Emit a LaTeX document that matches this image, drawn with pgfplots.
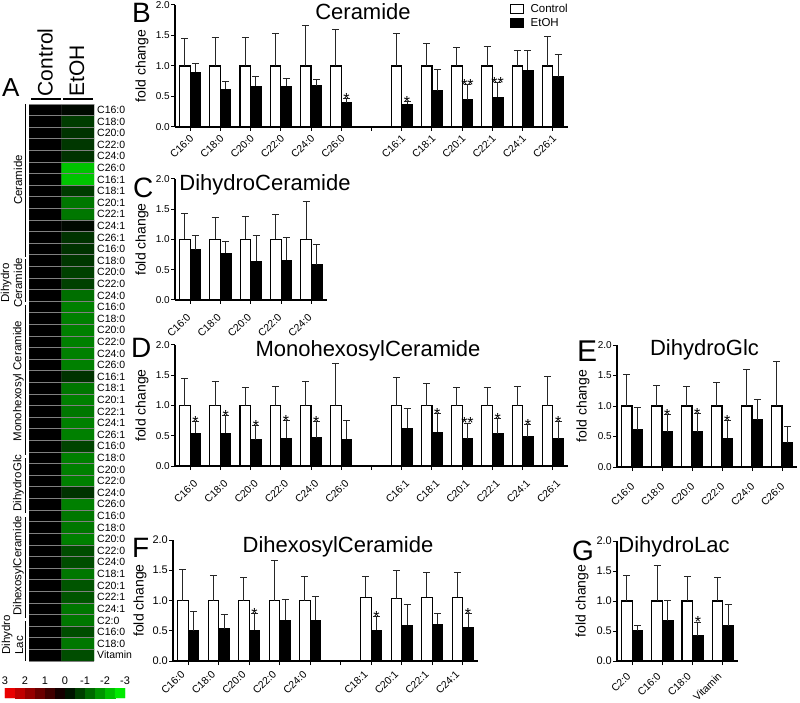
\documentclass[border=0pt]{standalone}
\usepackage{fontspec}
\setmainfont{Liberation Sans}
\usepackage{pgfplots}
\usepackage{pgfplotstable}
\pgfplotsset{compat=1.18}
\newcommand{\fs}[1]{\fontsize{#1}{#1}\selectfont}

\pgfplotstableread{
x c ce e ee
0 1 0.45 0.90 0.14
1 1 0.46 0.62 0.12
2 1 0.47 0.67 0.15
3 1 0.53 0.67 0.12
4 1 0.67 0.68 0.10
5 1 0.60 0.40 0.07
7 1 0.54 0.37 0.04
8 1 0.37 0.59 0.35
9 1 0.31 0.45 0.25
10 1 0.32 0.49 0.24
11 1 0.26 0.93 0.33
12 1 0.48 0.82 0.37
}\tabB
\pgfplotstableread{
x c ce e ee
0 1 0.43 0.83 0.23
1 1 0.36 0.77 0.19
2 1 0.38 0.64 0.43
3 1 0.42 0.66 0.37
4 1 0.63 0.58 0.33
}\tabC
\pgfplotstableread{
x c ce e ee
0 1 0.44 0.54 0.19
1 1 0.39 0.54 0.29
2 1 0.30 0.43 0.24
3 1 0.31 0.46 0.29
4 1 0.39 0.47 0.27
5 1 0.69 0.44 0.31
7 1 0.47 0.62 0.33
8 1 0.37 0.56 0.30
9 1 0.29 0.45 0.26
10 1 0.29 0.53 0.25
11 1 0.32 0.48 0.21
12 1 0.48 0.45 0.29
}\tabD
\pgfplotstableread{
x c ce e ee
0 1 0.52 0.61 0.36
1 1 0.34 0.58 0.28
2 1 0.32 0.58 0.29
3 1 0.38 0.47 0.29
4 1 0.60 0.77 0.34
5 1 0.73 0.40 0.26
}\tabE
\pgfplotstableread{
x c ce e ee
0 1.00 0.52 0.50 0.32
1 1.00 0.42 0.53 0.24
2 1.00 0.38 0.51 0.27
3 1.00 0.66 0.67 0.35
4 1.00 0.39 0.67 0.39
6 1.05 0.34 0.51 0.23
7 1.03 0.47 0.59 0.35
8 1.05 0.41 0.61 0.18
9 1.05 0.41 0.56 0.22
}\tabF
\pgfplotstableread{
x c ce e ee
0 1 0.43 0.50 0.09
1 1 0.60 0.67 0.34
2 1 0.41 0.42 0.23
3 1 0.40 0.59 0.36
}\tabG
\pgfplotstableread{
x y c
0 0 0
1 0 -0.1
0 1 0
1 1 -0.7
0 2 0
1 2 -0.6
0 3 0
1 3 -0.65
0 4 0
1 4 -0.6
0 5 0
1 5 -2.3
0 6 0
1 6 -2.3
0 7 0
1 7 -0.7
0 8 0
1 8 -1.4
0 9 0
1 9 -1.4
0 10 0
1 10 -0.1
0 11 0
1 11 -0.6
0 12 0
1 12 -0.6
0 13 0
1 13 -0.65
0 14 0
1 14 -0.75
0 15 0
1 15 -0.75
0 16 0
1 16 -1.3
0 17 0
1 17 -1.5
0 18 0
1 18 -1.5
0 19 0
1 19 -1.5
0 20 0
1 20 -1.5
0 21 0
1 21 -1.5
0 22 0
1 22 -1.5
0 23 0
1 23 -0.6
0 24 0
1 24 -1.4
0 25 0
1 25 -1.5
0 26 0
1 26 -1.4
0 27 0
1 27 -1.5
0 28 0
1 28 -1.5
0 29 0
1 29 -0.8
0 30 0
1 30 -1.5
0 31 0
1 31 -1.5
0 32 0
1 32 -1.5
0 33 0
1 33 -0.6
0 34 0
1 34 -1.5
0 35 0
1 35 -1.4
0 36 0
1 36 -1.4
0 37 0
1 37 -1.5
0 38 0
1 38 -0.9
0 39 0
1 39 -0.9
0 40 0
1 40 -1.4
0 41 0
1 41 -1.0
0 42 0
1 42 -1.0
0 43 0
1 43 -1.4
0 44 0
1 44 -1.4
0 45 0
1 45 -0.9
0 46 0
1 46 -1.4
0 47 0
1 47 -0.9
}\tabHeat
\pgfplotstableread{
x y c
0 0 2.75
1 0 2.25
2 0 1.75
3 0 1.25
4 0 0.75
5 0 0.25
6 0 -0.25
7 0 -0.75
8 0 -1.25
9 0 -1.75
10 0 -2.25
11 0 -2.75
0 1 2.75
1 1 2.25
2 1 1.75
3 1 1.25
4 1 0.75
5 1 0.25
6 1 -0.25
7 1 -0.75
8 1 -1.25
9 1 -1.75
10 1 -2.25
11 1 -2.75
}\tabBar

\pgfplotsset{
  barax/.style={
    scale only axis, anchor=south west,
    ybar=0pt, bar width=0.35,
    ymin=0, ymax=2, ytick={0,0.5,1,1.5,2},
    enlargelimits=false, clip=false,
    axis lines=left, axis line style={-, line width=1.2pt},
    tick style={black, line width=1pt}, major tick length=4pt, tick align=outside,
    /pgf/number format/assume math mode=true,
    yticklabel style={/pgf/number format/fixed, /pgf/number format/fixed zerofill, /pgf/number format/precision=1, inner sep=1pt},
    ylabel={fold change},
    every axis y label/.style={rotate=90, anchor=center, font=\fs{14}},
  },
  lbl/.style 2 args={xticklabel style={xshift=#1, yshift=#2, rotate=45, anchor=north east, inner sep=1pt, font=\fs{10.5}}},
  small/.style={yticklabel style={font=\fs{10}}},
  big/.style={yticklabel style={font=\fs{11}}},
  ctrl/.style={fill=white, draw=black, line width=1.1pt, bar shift=-0.175,
    error bars/y dir=plus, error bars/y explicit,
    error bars/error bar style={line width=1pt, black!85},
    error bars/error mark options={rotate=90, mark size=3.5pt, line width=1pt, black!85}},
  etoh/.style={fill=black, draw=black, line width=1.1pt, bar shift=0.175,
    error bars/y dir=plus, error bars/y explicit,
    error bars/error bar style={line width=1pt, black!85},
    error bars/error mark options={rotate=90, mark size=3.5pt, line width=1pt, black!85}},
}
\newcommand{\sig}[3]{\node[anchor=base, inner sep=0pt, font=\fs{16}, yshift=-5.8pt] at (axis cs:#1,#2) {#3};}

\begin{document}
\begin{tikzpicture}
\useasboundingbox (0pt,0pt) rectangle (800pt,702pt);

% ---------- A: heatmap ----------
\begin{axis}[scale only axis, anchor=south west, at={(29pt,41pt)}, width=65pt, height=557pt,
  xmin=-0.5, xmax=1.5, ymin=-0.5, ymax=47.5, y dir=reverse, enlargelimits=false,
  colormap={gb}{rgb255=(0,255,0) rgb255=(0,0,0) rgb255=(255,0,0)},
  point meta min=-3, point meta max=3,
  axis line style={draw=none},
  xtick=\empty, ytick={0,...,47},
  yticklabels={C16:0,C18:0,C20:0,C22:0,C24:0,C26:0,C16:1,C18:1,C20:1,C22:1,C24:1,C26:1,
    C16:0,C18:0,C20:0,C22:0,C24:0,
    C16:0,C18:0,C20:0,C22:0,C24:0,C26:0,C16:1,C18:1,C20:1,C22:1,C24:1,C26:1,
    C16:0,C18:0,C20:0,C22:0,C24:0,C26:0,
    C16:0,C18:0,C20:0,C22:0,C24:0,C18:1,C20:1,C22:1,C24:1,
    C2:0,C16:0,C18:0,Vitamin},
  yticklabel pos=right,
  major tick length=0pt, minor tick length=0pt,
  minor xtick={-0.5,0.5,1.5}, minor ytick={-0.5,0.5,...,47.5},
  xminorgrids=true, yminorgrids=true, minor grid style={draw=gray, line width=0.9pt},
  axis on top,
  yticklabel style={font=\fs{10.5}, inner sep=0pt}, yticklabel shift=3pt]
\addplot[matrix plot*, mesh/cols=2, point meta=explicit] table[x=x, y=y, meta=c]{\tabHeat};
\end{axis}

% colour bar
\begin{axis}[scale only axis, anchor=south west, at={(5pt,4pt)}, width=120pt, height=10pt,
  xmin=-0.5, xmax=11.5, ymin=-0.5, ymax=1.5, enlargelimits=false,
  colormap={gb}{rgb255=(0,255,0) rgb255=(0,0,0) rgb255=(255,0,0)},
  point meta min=-3, point meta max=3,
  axis line style={draw=none}, ytick=\empty,
  xtick={-0.5,1.5,3.5,5.5,7.5,9.5,11.5}, xticklabels={3,2,1,0,-1,-2,-3},
  xticklabel pos=upper, major tick length=0pt,
  xticklabel style={font=\fs{11}, inner sep=0pt}, xticklabel shift=3pt]
\addplot[matrix plot*, mesh/cols=12, point meta=explicit] table[x=x, y=y, meta=c]{\tabBar};
\end{axis}

\node[rotate=90, anchor=west, inner sep=0pt, font=\fs{21}] at (45pt,605.5pt) {Control};
\node[rotate=90, anchor=west, inner sep=0pt, font=\fs{21}] at (77pt,605.5pt) {EtOH};
\draw[line width=1.5pt] (31pt,603pt) -- (61pt,603pt);
\draw[line width=1.5pt] (63pt,603pt) -- (93pt,603pt);
\draw[line width=1.7pt] (25.5pt,598pt) -- (25.5pt,445pt);
\draw[line width=1.7pt] (25.5pt,442.5pt) -- (25.5pt,400pt);
\draw[line width=1.7pt] (25.5pt,397pt) -- (25.5pt,247pt);
\draw[line width=1.7pt] (25.5pt,244pt) -- (25.5pt,189pt);
\draw[line width=1.7pt] (25.5pt,185pt) -- (25.5pt,84pt);
\draw[line width=1.7pt] (25.5pt,81pt) -- (25.5pt,41pt);
\node[rotate=90, font=\fs{11.5}] at (18pt,522pt) {Ceramide};
\node[rotate=90, font=\fontsize{11.5}{13}\selectfont, align=center] at (11.5pt,419pt) {Dihydro\\Ceramide};
\node[rotate=90, font=\fs{11.5}] at (18.5pt,321pt) {Monohexosyl Ceramide};
\node[rotate=90, font=\fs{11.5}] at (18.5pt,219pt) {DihydroGlc};
\node[rotate=90, font=\fs{11.5}] at (18.5pt,136pt) {DihexosylCeramide};
\node[rotate=90, font=\fontsize{11.5}{13}\selectfont, align=left, anchor=west] at (12.5pt,44pt) {Dihydro\\Lac};

% ---------- B ----------
\begin{axis}[barax, small, lbl={-1pt}{-1pt}, at={(175pt,575pt)}, width=393pt, height=122pt,
  xmin=-0.5, xmax=12.5, xtick={0,...,12},
  xticklabels={C16:0,C18:0,C20:0,C22:0,C24:0,C26:0,,C16:1,C18:1,C20:1,C22:1,C24:1,C26:1},
  ylabel style={at={(axis description cs:-0.084,0.5)}},
  legend cell align=left,
  legend style={at={(0.852,1.01)}, anchor=north west, draw=none, fill=none, inner sep=0pt,
    font=\fs{11.5}, row sep=3pt, nodes={inner sep=0.5pt},
    /tikz/every odd column/.append style={column sep=6pt}}]
\addplot[ctrl, legend image code/.code={\draw[fill=white, draw=black, line width=1.1pt] (0pt,-4.5pt) rectangle (13pt,4.5pt);}]
  table[x=x, y=c, y error=ce]{\tabB};
\addlegendentry{Control}
\addplot[etoh, legend image code/.code={\draw[fill=black, draw=black, line width=1.1pt] (0pt,-4.5pt) rectangle (13pt,4.5pt);}]
  table[x=x, y=e, y error=ee]{\tabB};
\addlegendentry{EtOH}
\sig{5.175}{0.47}{*}
\sig{7.175}{0.41}{*}
\sig{9.175}{0.70}{**}
\sig{10.175}{0.73}{**}
\end{axis}

% ---------- C ----------
\begin{axis}[barax, small, lbl={-4pt}{-7pt}, at={(175pt,402pt)}, width=151.5pt, height=121pt,
  xmin=-0.5, xmax=4.5, xtick={0,...,4},
  xticklabels={C16:0,C18:0,C20:0,C22:0,C24:0},
  ylabel style={at={(axis description cs:-0.218,0.5)}}]
\addplot[ctrl] table[x=x, y=c, y error=ce]{\tabC};
\addplot[etoh] table[x=x, y=e, y error=ee]{\tabC};
\end{axis}

% ---------- D ----------
\begin{axis}[barax, small, lbl={3pt}{-7pt}, at={(175pt,236pt)}, width=393pt, height=121pt,
  xmin=-0.5, xmax=12.5, xtick={0,...,12},
  xticklabels={C16:0,C18:0,C20:0,C22:0,C24:0,C26:0,,C16:1,C18:1,C20:1,C22:1,C24:1,C26:1},
  ylabel style={at={(axis description cs:-0.084,0.5)}}]
\addplot[ctrl] table[x=x, y=c, y error=ce]{\tabD};
\addplot[etoh] table[x=x, y=e, y error=ee]{\tabD};
\sig{0.175}{0.73}{*}
\sig{1.175}{0.83}{*}
\sig{2.175}{0.67}{*}
\sig{3.175}{0.75}{*}
\sig{4.175}{0.74}{*}
\sig{8.175}{0.86}{*}
\sig{9.175}{0.71}{**}
\sig{10.175}{0.78}{*}
\sig{11.175}{0.69}{*}
\sig{12.175}{0.74}{*}
\end{axis}

% ---------- E ----------
\begin{axis}[barax, small, lbl={-2pt}{-9pt}, at={(617pt,235pt)}, width=180pt, height=122pt,
  xmin=-0.5, xmax=5.5, xtick={0,...,5},
  xticklabels={C16:0,C18:0,C20:0,C22:0,C24:0,C26:0},
  ylabel style={at={(axis description cs:-0.189,0.5)}}]
\addplot[ctrl] table[x=x, y=c, y error=ce]{\tabE};
\addplot[etoh] table[x=x, y=e, y error=ee]{\tabE};
\sig{1.175}{0.86}{*}
\sig{2.175}{0.87}{*}
\sig{3.175}{0.76}{*}
\end{axis}

% ---------- F ----------
\begin{axis}[barax, big, lbl={-8pt}{-3pt}, at={(173pt,41pt)}, width=305pt, height=121pt,
  xmin=-0.5, xmax=9.5, xtick={0,...,9},
  xticklabels={C16:0,C18:0,C20:0,C22:0,C24:0,,C18:1,C20:1,C22:1,C24:1},
  ylabel style={at={(axis description cs:-0.108,0.5)}}]
\addplot[ctrl] table[x=x, y=c, y error=ce]{\tabF};
\addplot[etoh] table[x=x, y=e, y error=ee]{\tabF};
\sig{2.175}{0.78}{*}
\sig{6.175}{0.74}{*}
\sig{9.175}{0.78}{*}
\end{axis}

% ---------- G ----------
\begin{axis}[barax, big, lbl={-6pt}{-5pt}, at={(617pt,41pt)}, width=121pt, height=120pt,
  xmin=-0.5, xmax=3.5, xtick={0,...,3},
  xticklabels={C2:0,C16:0,C18:0,Vitamin},
  ylabel style={at={(axis description cs:-0.289,0.5)}}]
\addplot[ctrl] table[x=x, y=c, y error=ce]{\tabG};
\addplot[etoh] table[x=x, y=e, y error=ee]{\tabG};
\sig{2.175}{0.65}{*}
\end{axis}

% titles
\node[anchor=base, font=\fs{22}] at (363pt,682pt) {Ceramide};
\node[anchor=base, font=\fs{22}] at (265pt,511.5pt) {DihydroCeramide};
\node[anchor=base, font=\fs{22}] at (368pt,345pt) {MonohexosylCeramide};
\node[anchor=base, font=\fs{22}] at (704.5pt,346pt) {DihydroGlc};
\node[anchor=base, font=\fs{22}] at (338pt,150pt) {DihexosylCeramide};
\node[anchor=base, font=\fs{22}] at (674pt,150pt) {DihydroLac};

% panel letters
\node[anchor=base west, inner sep=0pt, font=\fs{26}] at (2pt,605pt) {A};
\node[anchor=base west, inner sep=0pt, font=\fs{28}] at (132pt,679pt) {B};
\node[anchor=base west, inner sep=0pt, font=\fs{28}] at (133pt,504pt) {C};
\node[anchor=base west, inner sep=0pt, font=\fs{28}] at (131pt,344pt) {D};
\node[anchor=base west, inner sep=0pt, font=\fs{30}] at (577pt,340pt) {E};
\node[anchor=base west, inner sep=0pt, font=\fs{28}] at (132pt,145pt) {F};
\node[anchor=base west, inner sep=0pt, font=\fs{28}] at (572pt,142pt) {G};
\end{tikzpicture}
\end{document}
